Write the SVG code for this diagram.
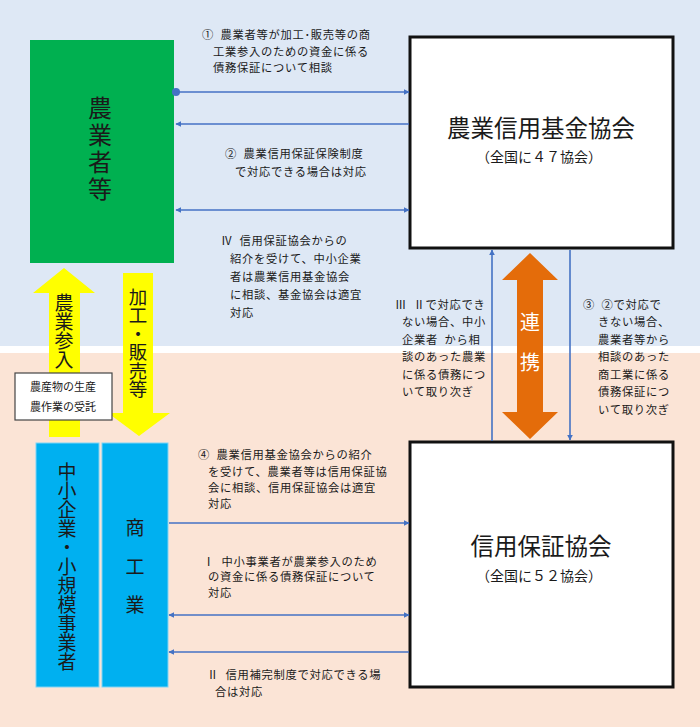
<svg xmlns="http://www.w3.org/2000/svg" width="700" height="727" viewBox="0 0 700 727">
<style>
.t{font-family:"Noto Sans CJK JP","Noto Sans",sans-serif;fill:#1a1a1a}
.n{font-size:11.3px;letter-spacing:0.7px;white-space:pre}
.v{writing-mode:vertical-rl;text-anchor:middle}
.c{stroke:#4472c4;stroke-width:1.6;fill:none}
.box{fill:#fff;stroke:#111;stroke-width:3}
</style>
<defs>
<marker id="ah" viewBox="0 0 10 10" refX="9" refY="5" markerWidth="6" markerHeight="6" orient="auto-start-reverse" markerUnits="userSpaceOnUse">
<path d="M0,0 L10,5 L0,10 z" fill="#4472c4"/>
</marker>
</defs>
<rect x="0" y="0" width="700" height="346" fill="#dee8f5"/>
<rect x="0" y="346" width="700" height="7" fill="#ffffff"/>
<rect x="0" y="353" width="700" height="374" fill="#fbe4d6"/>

<g id="farmers">
<rect x="30" y="40" width="144" height="223" fill="#00b050"/>
<text class="t v" x="100" y="150" font-size="24" letter-spacing="3">農業者等</text>
</g>

<g id="agri-fund">
<rect class="box" x="410" y="37" width="263" height="211"/>
<text class="t" x="541" y="137" font-size="23.5" text-anchor="middle">農業信用基金協会</text>
<text class="t" x="539" y="162" font-size="14" text-anchor="middle">（全国に４７協会）</text>
</g>

<g id="credit-guarantee">
<rect class="box" x="410" y="442" width="263" height="245"/>
<text class="t" x="541" y="555" font-size="23.5" text-anchor="middle">信用保証協会</text>
<text class="t" x="539" y="581" font-size="14" text-anchor="middle">（全国に５２協会）</text>
</g>

<g id="sme">
<rect x="36" y="443" width="63" height="244" fill="#00b0f0" stroke="#7fd3f5" stroke-width="1"/>
<text class="t v" x="67" y="567" font-size="19">中小企業・小規模事業者</text>
</g>

<g id="commerce">
<rect x="102" y="443" width="66" height="244" fill="#00b0f0" stroke="#7fd3f5" stroke-width="1"/>
<text class="t" x="135" y="535" font-size="19" text-anchor="middle">商</text>
<text class="t" x="135" y="574" font-size="19" text-anchor="middle">工</text>
<text class="t" x="135" y="612" font-size="19" text-anchor="middle">業</text>
</g>

<g id="agri-entry">
<path d="M49,437 L49,293 L33,293 L64,268 L95,293 L80,293 L80,437 z" fill="#ffff00"/>
<text class="t v" x="64" y="331" font-size="19">農業参入</text>
</g>

<g id="processing">
<path d="M123,273 L153,273 L153,413 L170,413 L139,436 L108,413 L123,413 z" fill="#ffff00"/>
<text class="t v" x="138" y="343" font-size="18.5">加工・販売等</text>
</g>

<g id="farm-note">
<rect x="15" y="373" width="97" height="47" fill="#fff" stroke="#444" stroke-width="1.2"/>
<text class="t" x="63" y="391" font-size="11" text-anchor="middle">農産物の生産</text>
<text class="t" x="63" y="411" font-size="11" text-anchor="middle">農作業の受託</text>
</g>

<g id="cooperation">
<path d="M530,253 L558,280 L543,280 L543,412 L558,412 L530,439 L502,412 L517,412 L517,280 L502,280 z" fill="#e46c0a"/>
<text class="t" x="530" y="330" font-size="20" style="fill:#fff" text-anchor="middle">連</text>
<text class="t" x="530" y="370" font-size="20" style="fill:#fff" text-anchor="middle">携</text>
</g>

<g id="connectors">
<circle cx="176" cy="92" r="4" fill="#4472c4"/>
<line class="c" x1="176" y1="92" x2="409" y2="92" marker-end="url(#ah)"/>
<line class="c" x1="409" y1="124" x2="176" y2="124" marker-end="url(#ah)"/>
<line class="c" x1="176" y1="210" x2="409" y2="210" marker-start="url(#ah)" marker-end="url(#ah)"/>
<line class="c" x1="492" y1="441" x2="492" y2="250" marker-end="url(#ah)"/>
<line class="c" x1="570" y1="250" x2="570" y2="440" marker-end="url(#ah)"/>
<line class="c" x1="169" y1="523" x2="409" y2="523" marker-end="url(#ah)"/>
<line class="c" x1="169" y1="615" x2="409" y2="615" marker-start="url(#ah)" marker-end="url(#ah)"/>
<line class="c" x1="409" y1="652" x2="169" y2="652" marker-end="url(#ah)"/>
</g>

<g id="labels">
<text class="t n" x="202" y="39">①  農業者等が加工･販売等の商</text>
<text class="t n" x="213" y="56">工業参入のための資金に係る</text>
<text class="t n" x="213" y="72">債務保証について相談</text>

<text class="t n" x="225" y="158">②  農業信用保証保険制度</text>
<text class="t n" x="235" y="176">で対応できる場合は対応</text>

<text class="t n" x="221" y="245">Ⅳ  信用保証協会からの</text>
<text class="t n" x="230" y="263">紹介を受けて、中小企業</text>
<text class="t n" x="230" y="281">者は農業信用基金協会</text>
<text class="t n" x="230" y="299">に相談、基金協会は適宜</text>
<text class="t n" x="230" y="317">対応</text>

<text class="t n" x="395" y="309">Ⅲ  Ⅱで対応でき</text>
<text class="t n" x="402" y="326">ない場合、中小</text>
<text class="t n" x="402" y="344">企業者  から相</text>
<text class="t n" x="402" y="361">談のあった農業</text>
<text class="t n" x="402" y="379">に係る債務につ</text>
<text class="t n" x="402" y="396">いて取り次ぎ</text>

<text class="t n" x="583" y="309">③  ②で対応で</text>
<text class="t n" x="598" y="326">きない場合、</text>
<text class="t n" x="598" y="344">農業者等から</text>
<text class="t n" x="598" y="361">相談のあった</text>
<text class="t n" x="598" y="379">商工業に係る</text>
<text class="t n" x="598" y="396">債務保証につ</text>
<text class="t n" x="598" y="414">いて取り次ぎ</text>

<text class="t n" x="198" y="459">④  農業信用基金協会からの紹介</text>
<text class="t n" x="208" y="476">を受けて、農業者等は信用保証協</text>
<text class="t n" x="208" y="492">会に相談、信用保証協会は適宜</text>
<text class="t n" x="208" y="508">対応</text>

<text class="t n" x="203" y="566">Ⅰ  中小事業者が農業参入のため</text>
<text class="t n" x="208" y="581">の資金に係る債務保証について</text>
<text class="t n" x="208" y="597">対応</text>

<text class="t n" x="207" y="679">Ⅱ  信用補完制度で対応できる場</text>
<text class="t n" x="215" y="696">合は対応</text>
</g>
</svg>
